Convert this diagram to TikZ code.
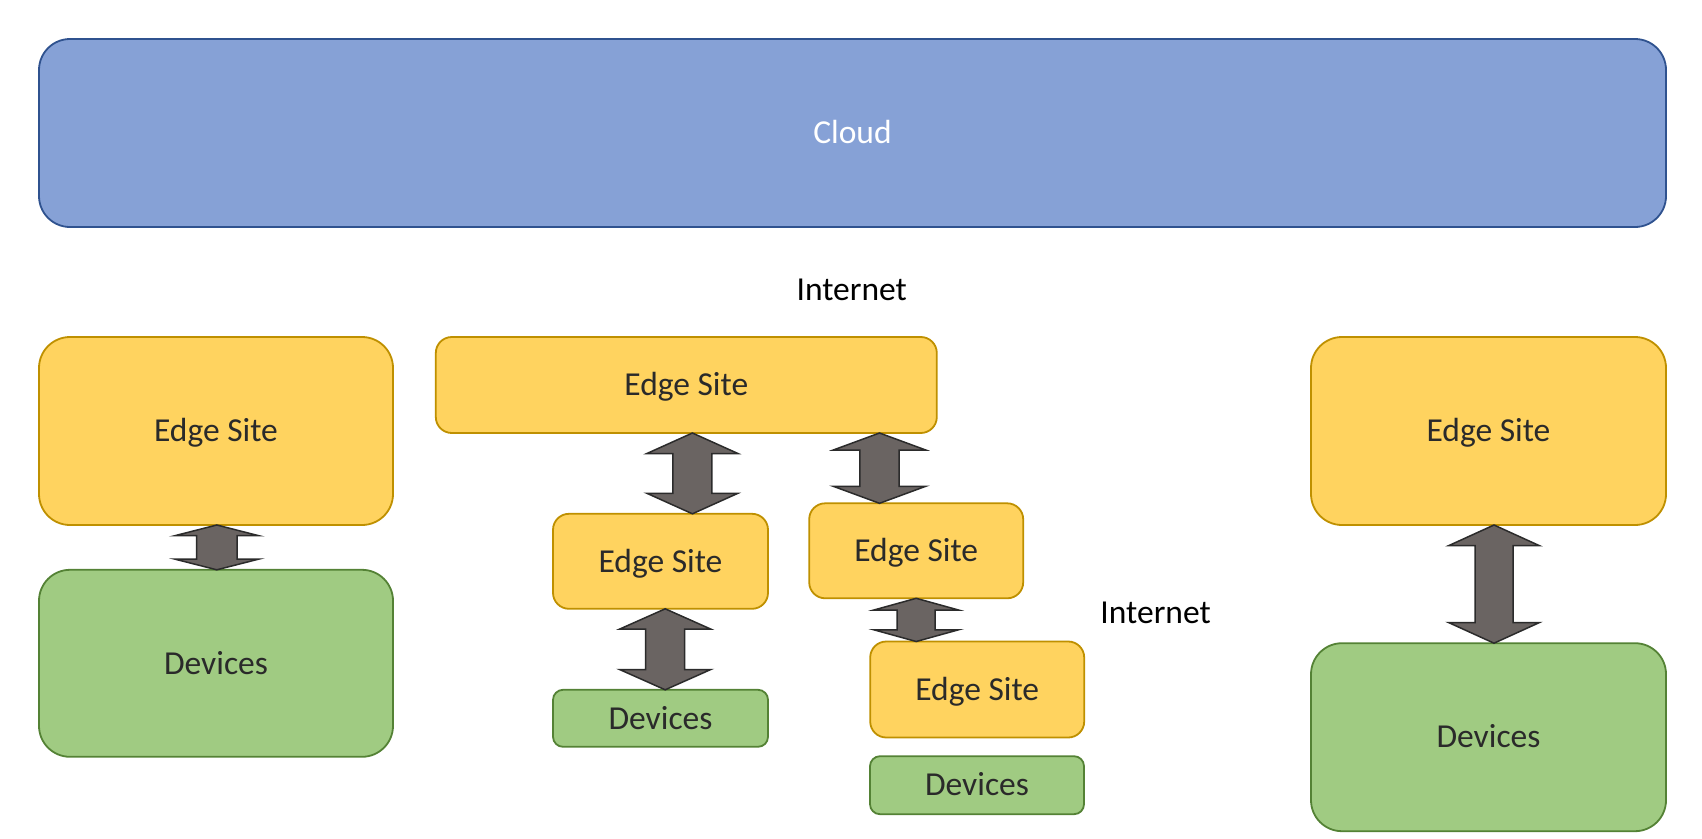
\documentclass[tikz,border=0pt]{standalone}
\usepackage{fontspec}
\setmainfont{Carlito}
\usetikzlibrary{calc}
\definecolor{cloudfill}{HTML}{86A1D6}
\definecolor{cloudline}{HTML}{2F528F}
\definecolor{edgefill}{HTML}{FFD35F}
\definecolor{edgeline}{HTML}{BF9000}
\definecolor{devfill}{HTML}{A0CB82}
\definecolor{devline}{HTML}{548235}
\definecolor{arrowfill}{HTML}{6A6462}
\definecolor{arrowline}{HTML}{2B2B2B}
\definecolor{boxtext}{HTML}{2A2A2A}

% double block arrow from the bottom of #1 to the top of #2
% #3 xshift, #4 half head width, #5 half shaft width, #6 head length
\newcommand{\updown}[6]{%
  \draw[updown] let \p1=([xshift=#3pt]#1.south), \p2=(#2.north) in
    (\x1,\y1) -- (\x1+#4pt,\y1-#6pt) -- (\x1+#5pt,\y1-#6pt) -- (\x1+#5pt,\y2+#6pt)
    -- (\x1+#4pt,\y2+#6pt) -- (\x1,\y2) -- (\x1-#4pt,\y2+#6pt) -- (\x1-#5pt,\y2+#6pt)
    -- (\x1-#5pt,\y1-#6pt) -- (\x1-#4pt,\y1-#6pt) -- cycle;}

\begin{document}
\begin{tikzpicture}[x=1pt,y=-1pt,
  every node/.style={font=\fontsize{33.5}{40}\selectfont,inner sep=0pt,outer sep=0pt,
    text height=21.4pt,text depth=0pt},
  box/.style={draw,line width=1.8pt,text=boxtext},
  cloudbox/.style={box,fill=cloudfill,draw=cloudline,text=white,rounded corners=31pt},
  edgebox/.style={box,fill=edgefill,draw=edgeline},
  devbox/.style={box,fill=devfill,draw=devline},
  updown/.style={fill=arrowfill,draw=arrowline,line width=1.5pt}]
\useasboundingbox (0,0) rectangle (1702,838);

\node (cloud) at (852.5,133) [cloudbox,minimum width=1627pt,minimum height=188pt] {Cloud};
\node (net1) at (851.7,300.7) [anchor=base] {Internet};

\node (le) at (216,431) [edgebox,rounded corners=31pt,minimum width=354pt,minimum height=188pt] {Edge Site};
\node (ld) at (216,663.3) [devbox,rounded corners=31pt,minimum width=354pt,minimum height=187pt] {Devices};

\node (mt) at (686.3,385) [edgebox,rounded corners=16pt,minimum width=501pt,minimum height=96pt] {Edge Site};
\node (ml) at (660.5,561.3) [edgebox,rounded corners=16pt,minimum width=215pt,minimum height=95pt] {Edge Site};
\node (mld) at (660.5,718.3) [devbox,rounded corners=10pt,minimum width=215pt,minimum height=57pt] {Devices};
\node (mr) at (916.2,550.8) [edgebox,rounded corners=16pt,minimum width=214pt,minimum height=95pt] {Edge Site};
\node (mb) at (977.2,689.5) [edgebox,rounded corners=16pt,minimum width=214pt,minimum height=96pt] {Edge Site};
\node (mbd) at (977,785.2) [devbox,rounded corners=10pt,minimum width=214pt,minimum height=58pt] {Devices};
\node (net2) at (1155.6,623) [anchor=base] {Internet};

\node (re) at (1488.5,431) [edgebox,rounded corners=31pt,minimum width=355pt,minimum height=188pt] {Edge Site};
\node (rd) at (1488.5,737.2) [devbox,rounded corners=31pt,minimum width=355pt,minimum height=188pt] {Devices};

\updown{le}{ld}{0.8}{42}{20.3}{10.7}
\updown{mt}{ml}{6.1}{45.5}{19.5}{20.5}
\updown{ml}{mld}{4.7}{45.6}{19.5}{20.3}
\updown{mt}{mr}{193.2}{46.2}{19.6}{17}
\updown{mr}{mb}{0}{42.3}{19}{11.7}
\updown{re}{rd}{5.5}{45.5}{19}{20.7}
\end{tikzpicture}
\end{document}
